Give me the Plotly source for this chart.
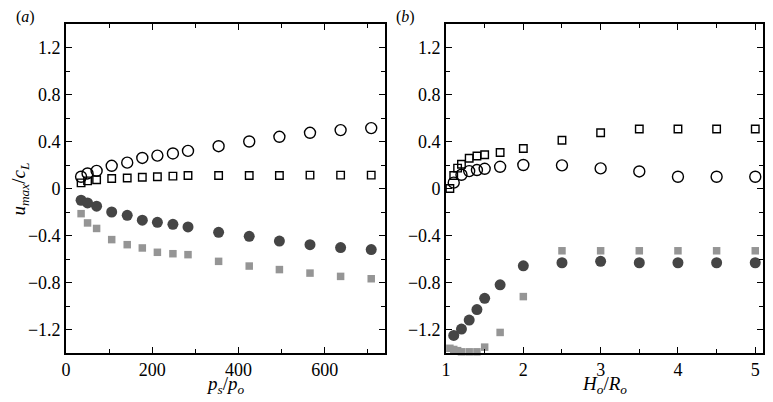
import plotly.graph_objects as go
from plotly.subplots import make_subplots

# panel (a): p_s/p_o
ps_po = [35, 50, 71, 106, 142, 177, 212, 248, 283, 354, 425, 495, 566, 637, 708]
a_open_circle = [0.10, 0.128, 0.15, 0.193, 0.22, 0.26, 0.28, 0.298, 0.32, 0.36, 0.40, 0.44, 0.474, 0.497, 0.514]
a_open_square = [0.048, 0.065, 0.075, 0.085, 0.09, 0.096, 0.10, 0.105, 0.11, 0.11, 0.11, 0.11, 0.114, 0.114, 0.114]
a_fill_circle = [-0.10, -0.123, -0.15, -0.20, -0.228, -0.27, -0.288, -0.305, -0.327, -0.373, -0.407, -0.447, -0.478, -0.503, -0.52]
a_gray_square = [-0.214, -0.293, -0.34, -0.435, -0.478, -0.506, -0.543, -0.555, -0.563, -0.62, -0.66, -0.69, -0.72, -0.748, -0.768]

# panel (b): H_o/R_o
ho_ro_sq = [1.05, 1.1, 1.15, 1.2, 1.3, 1.4, 1.5, 1.7, 2.0, 2.5, 3.0, 3.5, 4.0, 4.5, 5.0]
b_open_square = [0.0, 0.11, 0.173, 0.207, 0.258, 0.276, 0.287, 0.307, 0.34, 0.41, 0.474, 0.506, 0.506, 0.506, 0.506]
b_gray_square = [-1.36, -1.37, -1.38, -1.39, -1.39, -1.39, -1.35, -1.225, -0.92, -0.53, -0.53, -0.53, -0.53, -0.53, -0.53]
ho_ro_ci = [1.1, 1.2, 1.3, 1.4, 1.5, 1.7, 2.0, 2.5, 3.0, 3.5, 4.0, 4.5, 5.0]
b_open_circle = [0.05, 0.117, 0.148, 0.157, 0.168, 0.185, 0.2, 0.197, 0.171, 0.145, 0.10, 0.10, 0.10]
b_fill_circle = [-1.25, -1.196, -1.12, -1.03, -0.935, -0.82, -0.658, -0.632, -0.62, -0.632, -0.632, -0.632, -0.632]

DARK = "#454545"
GRAY = "#959595"
FONT = "Liberation Serif"

fig = make_subplots(rows=1, cols=2)

def add_set(col, x, y, symbol, color, size, line_color="black", line_w=1.4):
    fig.add_trace(go.Scatter(
        x=x, y=y, mode="markers", showlegend=False, cliponaxis=False,
        marker=dict(symbol=symbol, size=size, color=color,
                    line=dict(color=line_color, width=line_w))),
        row=1, col=col)

add_set(1, ps_po, a_open_circle, "circle-open", "black", 11)
add_set(1, ps_po, a_open_square, "square-open", "black", 7.5)
add_set(1, ps_po, a_fill_circle, "circle", DARK, 11, DARK, 0)
add_set(1, ps_po, a_gray_square, "square", GRAY, 7.5, GRAY, 0)

add_set(2, ho_ro_sq, b_open_square, "square-open", "black", 7.5)
add_set(2, ho_ro_ci, b_open_circle, "circle-open", "black", 11)
add_set(2, ho_ro_ci, b_fill_circle, "circle", DARK, 11, DARK, 0)
add_set(2, ho_ro_sq, b_gray_square, "square", GRAY, 7.5, GRAY, 0)

axis_style = dict(
    showline=True, linecolor="black", linewidth=1.6, mirror="allticks",
    ticks="inside", ticklen=6, tickwidth=1.2, tickcolor="black",
    showgrid=False, zeroline=False, automargin=False,
    tickfont=dict(family=FONT, size=18, color="black"),
)

fig.update_xaxes(**axis_style)
fig.update_yaxes(**axis_style, range=[-1.4, 1.4], tick0=0, dtick=0.4,
                 minor=dict(dtick=0.2, ticks="inside", ticklen=4, tickcolor="black", tickwidth=1))

fig.update_xaxes(domain=[0, 0.4577], range=[0, 740], tick0=0, dtick=200,
                 minor=dict(dtick=100, ticks="inside", ticklen=4, tickcolor="black", tickwidth=1),
                 row=1, col=1)
fig.update_xaxes(domain=[0.5452, 1], range=[1, 5.1], tick0=1, dtick=1,
                 minor=dict(dtick=0.5, ticks="inside", ticklen=4, tickcolor="black", tickwidth=1),
                 row=1, col=2)

title_font = dict(family=FONT, size=19, color="black")
fig.add_annotation(text="<i>p<sub>s</sub></i>/<i>p<sub>o</sub></i>", xref="paper", yref="paper",
                   x=0.2288, y=-0.097, showarrow=False, xanchor="center", yanchor="middle",
                   font=title_font)
fig.add_annotation(text="<i>H<sub>o</sub></i>/<i>R<sub>o</sub></i>", xref="paper", yref="paper",
                   x=0.773, y=-0.097, showarrow=False, xanchor="center", yanchor="middle",
                   font=title_font)
fig.add_annotation(text="<i>u<sub>max</sub></i>/<i>c<sub>L</sub></i>", xref="paper", yref="paper",
                   x=-0.066, y=0.5, showarrow=False, xanchor="center", yanchor="middle",
                   textangle=-90, font=title_font)

panel_font = dict(family=FONT, size=16, color="black")
fig.add_annotation(text="(<i>a</i>)", xref="paper", yref="paper", x=-0.075, y=1.02,
                   showarrow=False, xanchor="left", yanchor="middle", font=panel_font)
fig.add_annotation(text="(<i>b</i>)", xref="paper", yref="paper", x=0.470, y=1.02,
                   showarrow=False, xanchor="left", yanchor="middle", font=panel_font)

# the page body adds an 8 px offset, so margins are 8 px smaller on the top/left
fig.update_layout(
    width=773, height=402,
    margin=dict(l=58, r=18, t=16, b=57),
    plot_bgcolor="white", paper_bgcolor="white",
    font=dict(family=FONT, color="black"),
)

fig.write_html("out.html")
